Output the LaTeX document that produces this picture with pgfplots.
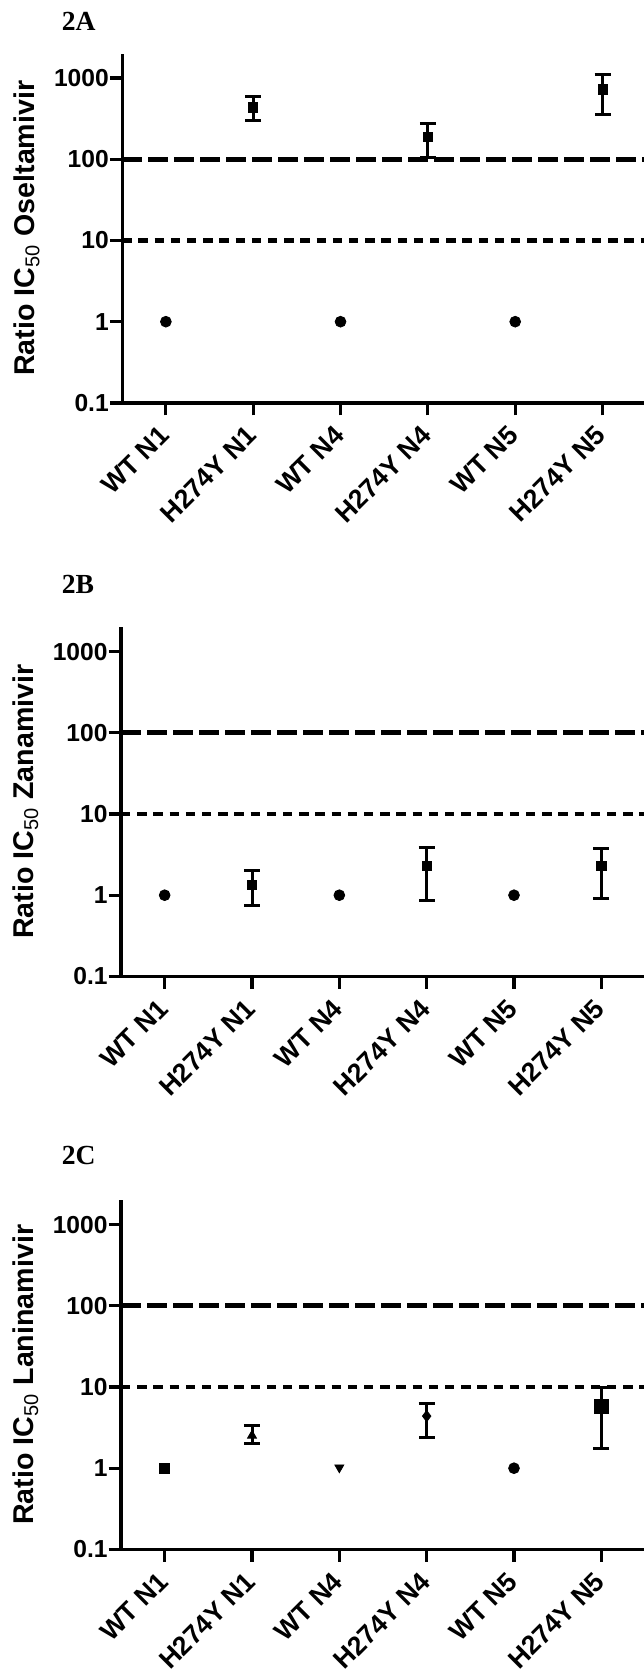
\documentclass[border=0pt]{standalone}
\usepackage{fontspec}
\setmainfont{Liberation Sans}
\newfontfamily\serifbf{Liberation Serif}
\usepackage{pgfplots}
\pgfplotsset{compat=1.18}
\pgfplotsset{
  every axis/.append style={
    scale only axis, width=262pt, height=174.65pt,
    ymin=0.1, ymax=2000, xmin=-0.5, xmax=5.5,
    axis x line=bottom, axis y line=left,
    axis line style={-, line width=1.6pt, black},
    tick align=outside, major tick length=6.2pt, minor tick length=0pt,
    tick style={line width=1.6pt, black},
    minor tick style={draw=none},
    ytick={0.1,1,10,100,1000}, yticklabels={0.1,1,10,100,1000},
    xtick={0,1,2,3,4,5},
    xticklabels={WT N1,H274Y N1,WT N4,H274Y N4,WT N5,H274Y N5},
    yticklabel style={font=\bfseries\fontsize{12.3}{14}\selectfont, xshift=3pt},
    xticklabel style={font=\bfseries\fontsize{13.3}{15}\selectfont, xshift=2.8pt, yshift=-11pt, rotate=45, anchor=south east, inner sep=0pt},
    ylabel style={at={(axis description cs:-0.182,0.5)}, rotate=0, anchor=center, font=\bfseries\fontsize{14.3}{16}\selectfont},
  },
}
\begin{document}
\begin{tikzpicture}
\useasboundingbox (0,0) rectangle (321.5pt,-837.5pt);
% ---------------- 2A ----------------
\node[font=\serifbf\bfseries\fontsize{13.8}{16}\selectfont, anchor=west, inner sep=0pt] at (30.7pt,-10.7pt) {2A};
\begin{axis}[ymode=log, at={(61.1pt,-201.45pt)}, anchor=south west,
  ylabel={Ratio IC\textsubscript{\mdseries 50} Oseltamivir}]
\addplot[line width=2.5pt, dash pattern=on 10pt off 3pt, black] coordinates {(-0.5,100) (5.5,100)};
\addplot[line width=2.1pt, dash pattern=on 4.7pt off 3.4pt, black] coordinates {(-0.5,10) (5.5,10)};
\addplot[only marks, mark=*, mark size=2.7pt, black] coordinates {(0,1) (2,1) (4,1)};
\addplot[only marks, mark=square*, mark size=2.3pt, black,
  error bars/.cd, y dir=both, y explicit,
  error bar style={line width=1.5pt, black},
  error mark options={line width=1.5pt, mark size=4pt, black, rotate=90}]
  coordinates {
    (1,436) += (0,154) -= (0,139)
    (3,189) += (0,85) -= (0,84)
    (5,724) += (0,376) -= (0,369)
  };
\end{axis}
% ---------------- 2B ----------------
\node[font=\serifbf\bfseries\fontsize{13.8}{16}\selectfont, anchor=west, inner sep=0pt] at (30.7pt,-292.2pt) {2B};
\begin{axis}[ymode=log, at={(60.5pt,-488.2pt)}, anchor=south west,
  ylabel={Ratio IC\textsubscript{\mdseries 50} Zanamivir}]
\addplot[line width=2.5pt, dash pattern=on 10pt off 3pt, black] coordinates {(-0.5,100) (5.5,100)};
\addplot[line width=2.1pt, dash pattern=on 4.7pt off 3.4pt, black] coordinates {(-0.5,10) (5.5,10)};
\addplot[only marks, mark=*, mark size=2.7pt, black] coordinates {(0,1) (2,1) (4,1)};
\addplot[only marks, mark=square*, mark size=2.3pt, black,
  error bars/.cd, y dir=both, y explicit,
  error bar style={line width=1.5pt, black},
  error mark options={line width=1.5pt, mark size=4pt, black, rotate=90}]
  coordinates {
    (1,1.35) += (0,0.64) -= (0,0.60)
    (3,2.32) += (0,1.60) -= (0,1.46)
    (5,2.29) += (0,1.44) -= (0,1.39)
  };
\end{axis}
% ---------------- 2C ----------------
\node[font=\serifbf\bfseries\fontsize{13.8}{16}\selectfont, anchor=west, inner sep=0pt] at (30.7pt,-577.7pt) {2C};
\begin{axis}[ymode=log, at={(60.5pt,-774.7pt)}, anchor=south west,
  ylabel={Ratio IC\textsubscript{\mdseries 50} Laninamivir}]
\addplot[line width=2.5pt, dash pattern=on 10pt off 3pt, black] coordinates {(-0.5,100) (5.5,100)};
\addplot[line width=2.1pt, dash pattern=on 4.7pt off 3.4pt, black] coordinates {(-0.5,10) (5.5,10)};
\addplot[only marks, mark=square*, mark size=2.5pt, black] coordinates {(0,1)};
\addplot[only marks, mark=triangle*, mark size=2.6pt, black,
  error bars/.cd, y dir=both, y explicit,
  error bar style={line width=1.5pt, black},
  error mark options={line width=1.5pt, mark size=4pt, black, rotate=90}]
  coordinates {(1,2.52) += (0,0.79) -= (0,0.52)};
\addplot[only marks, mark=triangle*, mark size=2.6pt, mark options={rotate=180}, black] coordinates {(2,1.02)};
\addplot[only marks, mark=diamond*, mark size=2.8pt, black,
  error bars/.cd, y dir=both, y explicit,
  error bar style={line width=1.5pt, black},
  error mark options={line width=1.5pt, mark size=4pt, black, rotate=90}]
  coordinates {(3,4.38) += (0,1.92) -= (0,1.96)};
\addplot[only marks, mark=*, mark size=2.7pt, black] coordinates {(4,1)};
\addplot[only marks, mark=square*, mark size=3.5pt, black,
  error bars/.cd, y dir=both, y explicit,
  error bar style={line width=1.5pt, black},
  error mark options={line width=1.5pt, mark size=4pt, black, rotate=90}]
  coordinates {(5,5.7) += (0,4.2) -= (0,3.96)};
\end{axis}
\end{tikzpicture}
\end{document}
